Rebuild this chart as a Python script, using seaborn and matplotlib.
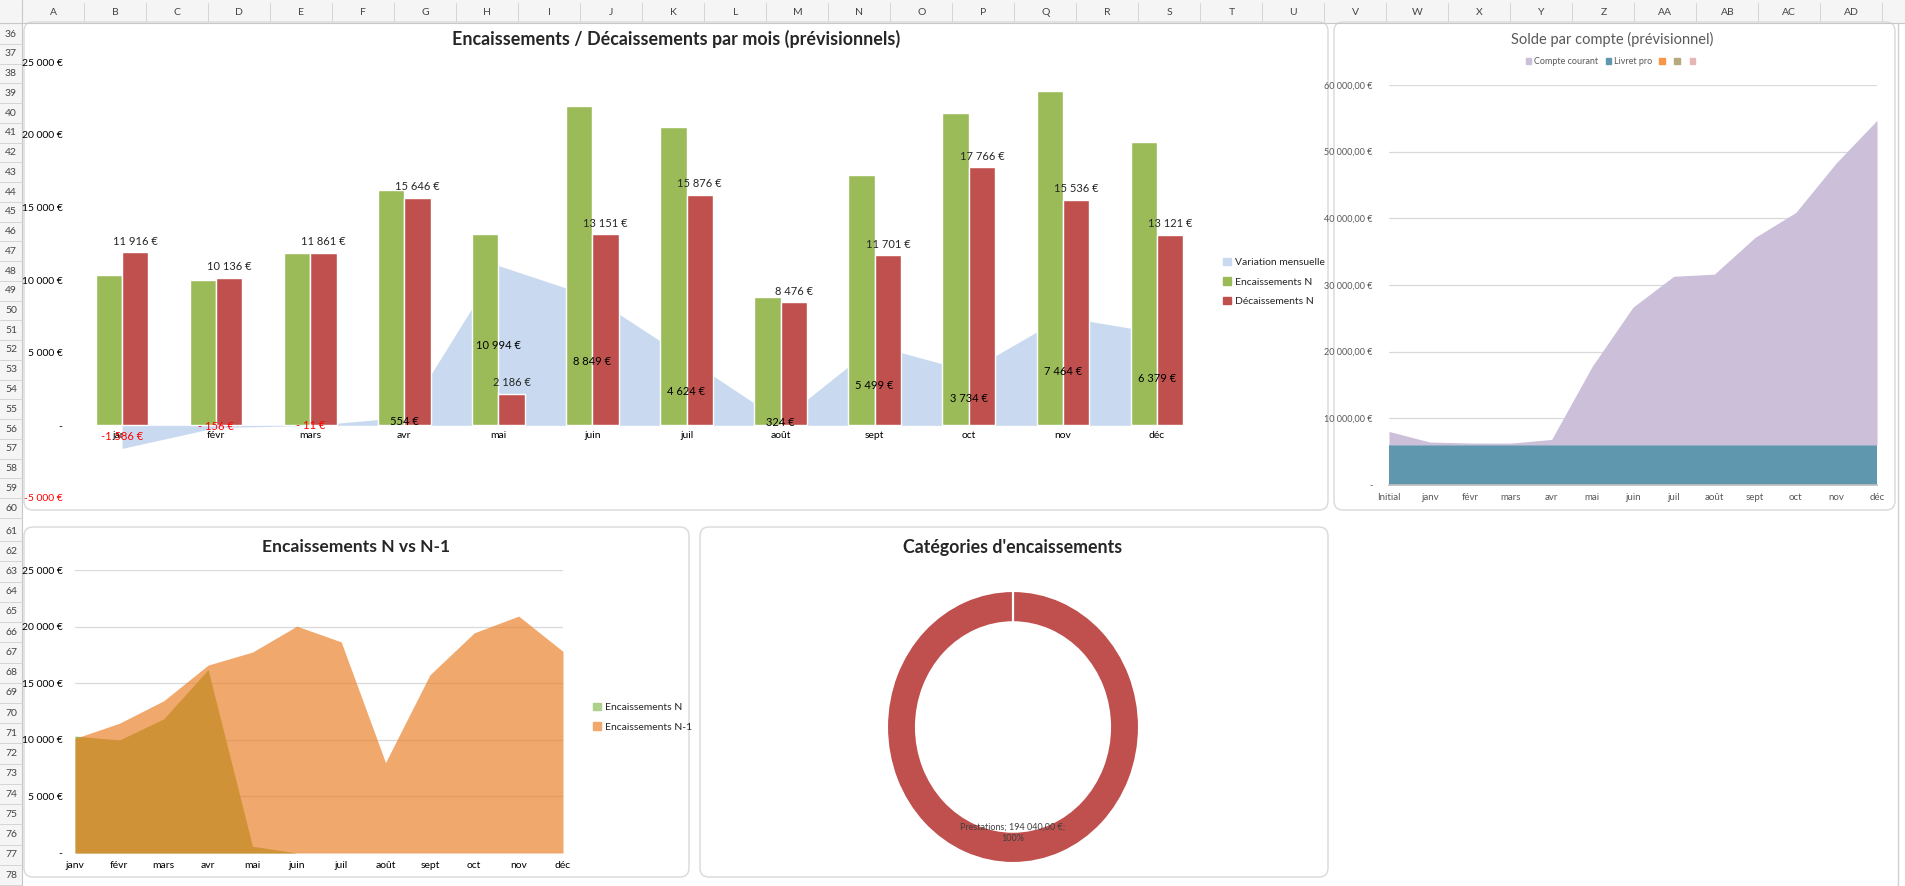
## tableau de bord tresorerie : 4 graphiques facon Excel
import numpy as np
import pandas as pd
import matplotlib
matplotlib.use("Agg")
import matplotlib.pyplot as plt
from matplotlib.patches import FancyBboxPatch, Rectangle, Patch
from matplotlib.ticker import FuncFormatter
import seaborn as sns

## donnees
mois = ["janv", "févr", "mars", "avr", "mai", "juin", "juil", "août", "sept", "oct", "nov", "déc"]
encaissements_n = [10330, 9980, 11850, 16200, 13180, 22000, 20500, 8800, 17200, 21500, 23000, 19500]
decaissements_n = [11916, 10136, 11861, 15646, 2186, 13151, 15876, 8476, 11701, 17766, 15536, 13121]
variation_mensuelle = [-1586, -156, -11, 554, 10994, 8849, 4624, 324, 5499, 3734, 7464, 6379]

solde_mois = ["Initial"] + mois
compte_courant = [2036, 450, 294, 283, 837, 11831, 20680, 25304, 25628, 31127, 34861, 42325, 48704]
livret_pro = [6000, 6000, 6000, 6000, 6000, 6000, 6000, 6000, 6000, 6000, 6000, 6000, 6000]

encaissements_n_reel = [10330, 9980, 11850, 16200, 600, 0, 0, 0, 0, 0, 0, 0]
encaissements_n_1 = [10125, 11460, 13450, 16600, 17750, 20040, 18650, 7990, 15740, 19450, 20930, 17810]

categories = ["Prestations"]
montants_categories = [194040.00]

colonnes = ["A", "B", "C", "D", "E", "F", "G", "H", "I", "J", "K", "L", "M", "N", "O",
            "P", "Q", "R", "S", "T", "U", "V", "W", "X", "Y", "Z", "AA", "AB", "AC", "AD"]
lignes_haut = list(range(36, 61))
lignes_bas = list(range(61, 79))

sns.set_theme(style="white")
plt.rcParams["font.family"] = ["Lato", "DejaVu Sans"]

W, H = 1905, 886
fig = plt.figure(figsize=(W / 100, H / 100), dpi=100)


def rect(x0, y0, x1, y1):
    return [x0 / W, 1 - y1 / H, (x1 - x0) / W, (y1 - y0) / H]


def eur(v):
    s = "{:,.0f}".format(abs(v)).replace(",", " ")
    if v < 0:
        return ("-" if abs(v) >= 1000 else "- ") + s + " €"
    return s + " €"


def eur_axe(v, pos=None):
    if v == 0:
        return "-"
    return eur(v)


def eur_dec(v, pos=None):
    if v == 0:
        return "-"
    return "{:,.2f}".format(v).replace(",", " ").replace(".", ",") + " €"


## fond tableur (entetes colonnes / lignes)
bg = fig.add_axes([0, 0, 1, 1], zorder=0)
bg.set_xlim(0, W)
bg.set_ylim(H, 0)
bg.axis("off")
bg.add_patch(Rectangle((0, 0), W, 23, color="#F5F5F5", lw=0))
bg.add_patch(Rectangle((0, 0), 22, H, color="#F5F5F5", lw=0))
bg.plot([0, W], [23, 23], color="#C8C8C8", lw=0.8)
bg.plot([22, 22], [0, H], color="#C8C8C8", lw=0.8)
for i, c in enumerate(colonnes):
    cx = 53.4 + 62 * i
    bg.text(cx, 12, c, ha="center", va="center", fontsize=7.5, color="#444444")
    bg.plot([cx + 31, cx + 31], [3, 23], color="#D4D4D4", lw=0.7)
for blk, (a, b) in zip([lignes_haut, lignes_bas], [(34, 508), (531, 875)]):
    ys = np.linspace(a, b, len(blk))
    step = ys[1] - ys[0]
    for r, yy in zip(blk, ys):
        bg.text(11, yy, str(r), ha="center", va="center", fontsize=7.5, color="#444444")
        bg.plot([0, 22], [yy + step / 2, yy + step / 2], color="#D4D4D4", lw=0.7)
bg.plot([1898, 1898], [23, H], color="#D0D0D0", lw=1)

for (x0, y0, x1, y1) in [(24, 22, 1328, 510), (1334, 22, 1895, 510),
                         (24, 527, 689, 877), (700, 527, 1328, 877)]:
    bg.add_patch(FancyBboxPatch((x0, y0), x1 - x0, y1 - y0,
                                boxstyle="round,pad=0,rounding_size=9",
                                fc="white", ec="#D9D9D9", lw=1))

## 1. Encaissements / Decaissements par mois
ax1 = fig.add_axes(rect(75, 62, 1204, 498), zorder=2)
ax1.patch.set_alpha(0)
df1 = pd.DataFrame({
    "mois": mois * 2,
    "serie": ["Encaissements N"] * 12 + ["Décaissements N"] * 12,
    "valeur": encaissements_n + decaissements_n,
})
sns.barplot(data=df1, x="mois", y="valeur", hue="serie",
            palette={"Encaissements N": "#9BBB59", "Décaissements N": "#C0504D"},
            width=0.56, gap=0, saturation=1, errorbar=None, legend=False,
            zorder=2, ax=ax1)
ax1.fill_between(range(12), 0, variation_mensuelle, color="#C9DAF0", lw=0, zorder=1)
ax1.set_xlim(-0.5, 11.5)
ax1.set_ylim(-5000, 25000)
ax1.set_yticks(range(-5000, 25001, 5000))
ax1.yaxis.set_major_formatter(FuncFormatter(eur_axe))
ax1.set_xlabel("")
ax1.set_ylabel("")
for s in ax1.spines.values():
    s.set_visible(False)
ax1.spines["bottom"].set_position(("data", 0))
ax1.tick_params(axis="both", length=0, labelsize=7.5, colors="black")
ax1.tick_params(axis="y", pad=9)
ax1.tick_params(axis="x", pad=4)
ax1.get_yticklabels()[0].set_color("red")
for i, v in enumerate(decaissements_n):
    ax1.annotate(eur(v), (i + 0.14, v), xytext=(0, 4), textcoords="offset points",
                 ha="center", va="bottom", fontsize=8, zorder=4)
for i, v in enumerate(variation_mensuelle):
    ax1.text(i, v / 2, eur(v), ha="center", va="center", fontsize=8,
             color="red" if v < 0 else "black", zorder=4)
fig.text(676 / W, 1 - 39 / H, "Encaissements / Décaissements par mois (prévisionnels)",
         ha="center", va="center", fontsize=12.9, fontweight="bold")
h1 = [Patch(color="#C9DAF0", label="Variation mensuelle"),
      Patch(color="#9BBB59", label="Encaissements N"),
      Patch(color="#C0504D", label="Décaissements N")]
ax1.legend(handles=h1, loc="center left", bbox_to_anchor=(1214 / W, 1 - 282 / H),
           bbox_transform=fig.transFigure, frameon=False, fontsize=7.5,
           handlelength=0.7, handleheight=0.7, handletextpad=0.4, labelspacing=1.0)

## 2. Solde par compte
ax2 = fig.add_axes(rect(1389, 85, 1877, 485), zorder=2)
ax2.patch.set_alpha(0)
ax2.stackplot(range(13), livret_pro, compte_courant,
              colors=["#5F97AF", "#CBBFD9"], lw=0, zorder=2)
ax2.set_xlim(0, 12)
ax2.set_ylim(0, 60000)
ax2.set_yticks(range(0, 60001, 10000))
ax2.yaxis.set_major_formatter(FuncFormatter(eur_dec))
ax2.set_xticks(range(13))
ax2.set_xticklabels(solde_mois)
ax2.grid(axis="y", color="#D9D9D9", lw=0.9, zorder=0)
ax2.set_axisbelow(True)
for s in ["top", "right", "left"]:
    ax2.spines[s].set_visible(False)
ax2.spines["bottom"].set_color("#BFBFBF")
ax2.tick_params(axis="y", length=0, labelsize=6.5, colors="#595959", pad=12)
ax2.tick_params(axis="x", length=3, color="#BFBFBF", labelsize=7, labelcolor="#595959", pad=3)
fig.text(1612 / W, 1 - 39 / H, "Solde par compte (prévisionnel)",
         ha="center", va="center", fontsize=10.5, color="#595959")
h2 = [Patch(color="#CBBFD9", label="Compte courant"),
      Patch(color="#5F97AF", label="Livret pro"),
      Patch(color="#F79646", label=""),
      Patch(color="#B5AA7E", label=""),
      Patch(color="#E6B6B6", label="")]
fig.legend(handles=h2, loc="center", bbox_to_anchor=(1612 / W, 1 - 62 / H), ncol=5,
           frameon=False, fontsize=6.5, labelcolor="#595959", handlelength=0.6,
           handleheight=0.6, handletextpad=0.3, columnspacing=0.8)

## 3. Encaissements N vs N-1
ax3 = fig.add_axes(rect(75, 570, 563, 853), zorder=2)
ax3.patch.set_alpha(0)
ax3.fill_between(range(12), 0, encaissements_n_reel, color="#9BBB59", lw=0, zorder=2)
ax3.fill_between(range(12), 0, encaissements_n_1, color="#E97F27", alpha=0.68, lw=0, zorder=3)
ax3.set_xlim(0, 11)
ax3.set_ylim(0, 25000)
ax3.set_yticks(range(0, 25001, 5000))
ax3.yaxis.set_major_formatter(FuncFormatter(eur_axe))
ax3.set_xticks(range(12))
ax3.set_xticklabels(mois)
ax3.grid(axis="y", color="#D9D9D9", lw=0.9, zorder=0)
ax3.set_axisbelow(True)
for s in ax3.spines.values():
    s.set_visible(False)
ax3.tick_params(axis="both", length=0, labelsize=7.5, colors="black")
ax3.tick_params(axis="y", pad=9)
ax3.tick_params(axis="x", pad=6)
fig.text(356 / W, 1 - 547 / H, "Encaissements N vs N-1",
         ha="center", va="center", fontsize=12.6, fontweight="bold")
h3 = [Patch(color="#ADD08A", label="Encaissements N"),
      Patch(color="#F0A86C", label="Encaissements N-1")]
ax3.legend(handles=h3, loc="center left", bbox_to_anchor=(584 / W, 1 - 717 / H),
           bbox_transform=fig.transFigure, frameon=False, fontsize=7.5,
           handlelength=0.7, handleheight=0.7, handletextpad=0.4, labelspacing=1.0)

## 4. Categories d'encaissements
ax4 = fig.add_axes(rect(887, 591, 1139, 863), zorder=2)
ax4.pie(montants_categories, radius=1, startangle=90, counterclock=False,
        colors=["#C0504D"], wedgeprops=dict(width=0.23, edgecolor="white", linewidth=1.5))
ax4.plot([0, 0], [0.76, 1.0], color="white", lw=1.6, zorder=5)
ax4.set_aspect("auto")
ax4.set_xlim(-1, 1)
ax4.set_ylim(-1, 1)
ax4.text(0, -0.78, "{}; {} €;\n100%".format(categories[0], eur_dec(montants_categories[0])[:-2]),
         ha="center", va="center", fontsize=6.5, color="#404040", linespacing=1.3)
fig.text(1013 / W, 1 - 547 / H, "Catégories d'encaissements",
         ha="center", va="center", fontsize=12.8, fontweight="bold")

fig.savefig("out.png", dpi=100)
